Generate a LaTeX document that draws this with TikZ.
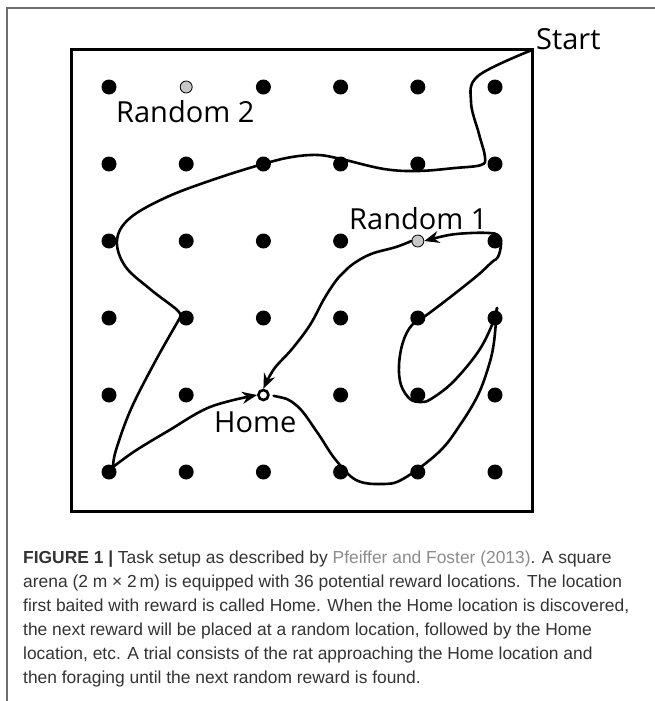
\documentclass[tikz,border=0pt]{standalone}
\usepackage{fontspec}
\setmainfont{Liberation Sans}
\newfontfamily\labelfont{Open Sans}
\usepackage{tikz}
\usetikzlibrary{arrows.meta}

\definecolor{captiongray}{HTML}{333333}
\definecolor{citegray}{HTML}{8C8C8C}
\definecolor{framegray}{HTML}{6E6E6E}

\begin{document}
\begin{tikzpicture}[x=1pt, y=-1pt]
    % Styles
    \tikzstyle{reward}=[circle, fill=black, inner sep=0pt, minimum size=15pt]
    \tikzstyle{randomspot}=[circle, fill=black!22, draw=black, line width=0.8pt, inner sep=0pt, minimum size=12pt]
    \tikzstyle{homespot}=[circle, fill=white, draw=black, line width=2.6pt, inner sep=0pt, minimum size=10pt]
    \tikzstyle{namelabel}=[font=\labelfont\fontsize{29pt}{29pt}\selectfont, inner sep=0pt, anchor=base west]
    \tikzstyle{track}=[line width=2.6pt, line cap=round, line join=round]
    \tikzstyle{arrow}=[track, -{Stealth[length=15pt, width=12pt, inset=5pt]}]
    \tikzstyle{capline}=[font=\fontsize{17.4pt}{24pt}\selectfont, text=captiongray, inner sep=0pt, anchor=base west]

    \useasboundingbox (0,0) rectangle (655,701);

    % Frame
    \draw[framegray, line width=1.3pt] (7,701) -- (7,8) -- (655,8);

    % Arena
    \node (arena) [draw, line width=3pt, minimum size=461pt, inner sep=0pt, outer sep=0pt] at (301.5,280.5) {};

    % Reward locations
    \foreach \i in {0,...,5}
      \foreach \j in {0,...,5} {
        \ifnum\i\j=10 \else\ifnum\i\j=42 \else\ifnum\i\j=24 \else
          \node (d\i\j) [reward] at ({109+77.2*\i}, {87+77*\j}) {};
        \fi\fi\fi
      }
    \node (rand2) [randomspot] at (186.2,87) {};
    \node (rand1) [randomspot] at (417.8,241) {};
    \node (home) [homespot] at (263.4,395) {};

    % Labels
    \node (startlab) [namelabel] at (536,49) {Start};
    \node (rand2lab) [namelabel] at (116,122) {Random 2};
    \node (rand1lab) [namelabel] at (349,229) {Random 1};
    \node (homelab) [namelabel] at (214,432) {Home};

    % Trajectory
    \draw[track] plot[smooth, tension=0.6] coordinates {(arena.north east) (478,76) (471,102) (479,134) (485,157) (481,165) (455,168) (418,171) (384,169) (341,159) (318,155) (292,157) (263,164) (215,179) (167,197) (130,218) (117,240) (125,266) (150,289) (176,309) (181,316)};
    \draw[track] plot[smooth, tension=0.6] coordinates {(181,316) (156,360) (131,409) (116,450) (113,467)};
    \draw[arrow] plot[smooth, tension=0.6] coordinates {(113,467) (135,451) (168,431) (210,407) (home.west)};
    \draw[track, shorten <=4pt] plot[smooth, tension=0.6] coordinates {(home.east) (296,405) (317,432) (335,459) (356,480) (382,484) (403,479) (439,452) (460,425) (478,395) (489,365) (494,342) (497,308)};
    \draw[arrow] plot[smooth, tension=0.6] coordinates {(497,308) (492,325) (478,352) (453,382) (431,399) (421,402) (410,399) (401,385) (399,365) (403,342) (412,325) (428,314) (453,295) (478,275) (492,262) (498,257) (501,244) (498,235) (489,233) (471,233) (449,235) (rand1.east)};
    \draw[arrow] plot[smooth, tension=0.6] coordinates {(rand1.west) (396,247) (371,254) (353,264) (342,274) (335,282) (324,299) (310,325) (292,349) (274,369) (home.north)};

    % Caption
    \node (cap1) [capline] at (23,563) {\textbf{FIGURE 1 |} Task setup as described by \textcolor{citegray}{Pfeiffer and Foster (2013)}. A square};
    \node (cap2) [capline] at (23,587) {arena (2 m × 2\,m) is equipped with 36 potential reward locations. The location};
    \node (cap3) [capline] at (23,611) {first baited with reward is called Home. When the Home location is discovered,};
    \node (cap4) [capline] at (23,635) {the next reward will be placed at a random location, followed by the Home};
    \node (cap5) [capline] at (23,659) {location, etc. A trial consists of the rat approaching the Home location and};
    \node (cap6) [capline] at (23,683) {then foraging until the next random reward is found.};
\end{tikzpicture}
\end{document}
